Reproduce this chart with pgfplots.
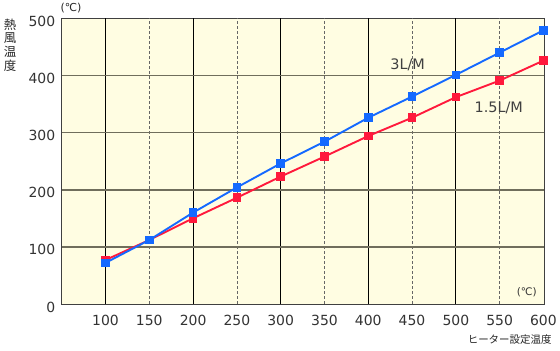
\documentclass[border=0pt]{standalone}
\usepackage{pgfplots}
\pgfplotsset{compat=1.18}
\usepackage{fontspec}
\setmainfont{DejaVu Sans}
\newfontfamily\jp{Noto Sans CJK JP}
\definecolor{bg}{RGB}{255,253,226}
\definecolor{bl}{RGB}{20,105,255}
\definecolor{rd}{RGB}{255,25,60}
\definecolor{hg}{RGB}{112,110,92}
\begin{document}
\begin{tikzpicture}[x=1bp,y=1bp]
\useasboundingbox (-61.7bp,-47bp) rectangle (498.3bp,304bp);
\begin{axis}[
  at={(0,0)}, anchor=south west,
  scale only axis, width=482.6bp, height=285.7bp,
  xmin=50, xmax=601, ymin=0, ymax=500,
  axis background/.style={fill=bg},
  axis line style={draw=black!75, line width=0.9pt},
  xtick={100,150,...,600}, ytick={0,100,...,500},
  tick style={draw=none},
  /pgf/number format/assume math mode=true,
  tick label style={font=\fontsize{14}{14}\selectfont, text=black!80},
  xticklabel style={yshift=-7.5bp},
  yticklabel style={xshift=-3bp, yshift=-3bp},
  clip=false,
]
% vertical grid
\foreach \x in {150,250,350,450,550}{
  \edef\tmp{\noexpand\draw[black!60, dashed, dash pattern=on 3bp off 2bp, line width=0.6pt] (axis cs:\x,0) -- (axis cs:\x,500);}\tmp
}
\foreach \x in {100,200,300,400,500}{
  \edef\tmp{\noexpand\draw[black, line width=0.8pt] (axis cs:\x,0) -- (axis cs:\x,500);}\tmp
}
\foreach \y in {100,200,300,400}{
  \edef\tmp{\noexpand\draw[hg, line width=1.6pt] (axis cs:50,\y) -- (axis cs:601,\y);}\tmp
}
\addplot[rd, line width=1.9pt, mark=square*, mark size=3.3bp, mark options={solid}] coordinates {
(100,77) (150,112) (200,150) (250,186) (300,223) (350,258) (400,294) (450,326) (500,362) (550,391) (600,426)};
\addplot[bl, line width=1.9pt, mark=square*, mark size=3.3bp, mark options={solid}] coordinates {
(100,72) (150,112) (200,160) (250,204) (300,246) (350,284) (400,326) (450,363) (500,401) (550,440) (600,479)};
\node[font=\fontsize{14.5}{14.5}\selectfont, text=black!75] at (axis cs:445,418) {3L/M};
\node[font=\fontsize{14.5}{14.5}\selectfont, text=black!75] at (axis cs:549,343) {1.5L/M};
\node[font=\fontsize{10.5}{10.5}\selectfont, text=black!80] at (axis cs:581,20) {(℃)};
\end{axis}
\node[font=\fontsize{11}{11}\selectfont, text=black!85] at (9.3bp,296bp) {(℃)};
\node[font=\jp\fontsize{12.5}{13.7}\selectfont, text=black!85, align=center] at (-51.7bp,259bp) {熱\\風\\温\\度};
\node[font=\jp\fontsize{10.5}{10.5}\selectfont, text=black!85, anchor=east] at (493.3bp,-36bp) {ヒーター設定温度};
\end{tikzpicture}
\end{document}
